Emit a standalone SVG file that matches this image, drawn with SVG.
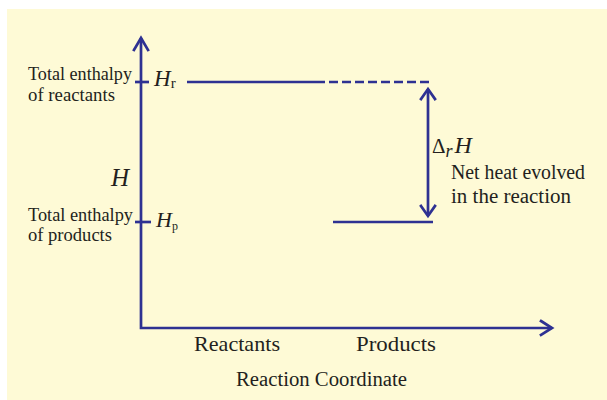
<svg xmlns="http://www.w3.org/2000/svg" width="607" height="400" viewBox="0 0 607 400">
<style>
.ln{stroke:#2E3192;stroke-width:2.7;fill:none}
.ah{stroke:#2E3192;stroke-width:2.7;fill:none;stroke-linecap:square}
text{font-family:"Liberation Serif","DejaVu Serif",serif;fill:#231F20}
.lb{font-size:19px}
.ax{font-size:22px}
.it{font-style:italic}
</style>
<rect x="7" y="9" width="600" height="391" fill="#FEFAD6"/>
<g id="connectors">
<path class="ln" d="M141,38 V328 H552"/>
<path class="ah" d="M134,50 L141,38 L148,50"/>
<path class="ah" d="M541,321 L552,328 L541,335"/>
<path class="ln" d="M135,82 H149"/>
<path class="ln" d="M135,222 H151"/>
<path class="ln" d="M187,82 H316"/>
<path class="ln" d="M316,82 H433" stroke-dasharray="9,4"/>
<path class="ln" d="M333,222 H433"/>
<path class="ln" d="M428,89 V216"/>
<path class="ah" d="M421,99 L428,89 L435,99"/>
<path class="ah" d="M421,206 L428,216 L435,206"/>
</g>
<g id="reactants-level">
<text class="lb" x="28" y="80" textLength="104" lengthAdjust="spacingAndGlyphs">Total enthalpy</text>
<text class="lb" x="28" y="101" textLength="87" lengthAdjust="spacingAndGlyphs">of reactants</text>
<text class="it" font-size="23" x="154" y="86">H<tspan font-style="normal" font-size="15" dy="2">r</tspan></text>
</g>
<g id="products-level">
<text class="lb" x="28" y="221" textLength="105" lengthAdjust="spacingAndGlyphs">Total enthalpy</text>
<text class="lb" x="28" y="241" textLength="84" lengthAdjust="spacingAndGlyphs">of products</text>
<text class="it" font-size="22" x="156" y="227">H<tspan font-style="normal" font-size="12" dy="3">p</tspan></text>
</g>
<g id="y-label">
<text class="it" x="111" y="186" font-size="25">H</text>
</g>
<g id="delta">
<text font-size="21" x="432" y="153">Δ<tspan class="it" font-size="18" dy="4">r</tspan><tspan class="it" font-size="24" dy="-4" dx="2">H</tspan></text>
<text class="lb" font-size="20" x="451" y="179" textLength="134" lengthAdjust="spacingAndGlyphs" style="font-size:20px">Net heat evolved</text>
<text class="lb" x="451" y="203" textLength="120" lengthAdjust="spacingAndGlyphs" style="font-size:20px">in the reaction</text>
</g>
<g id="x-labels">
<text class="ax" x="194" y="351" textLength="86" lengthAdjust="spacingAndGlyphs">Reactants</text>
<text class="ax" x="356" y="351" textLength="80" lengthAdjust="spacingAndGlyphs">Products</text>
<text x="236" y="386" font-size="20" textLength="171" lengthAdjust="spacingAndGlyphs">Reaction Coordinate</text>
</g>
</svg>
